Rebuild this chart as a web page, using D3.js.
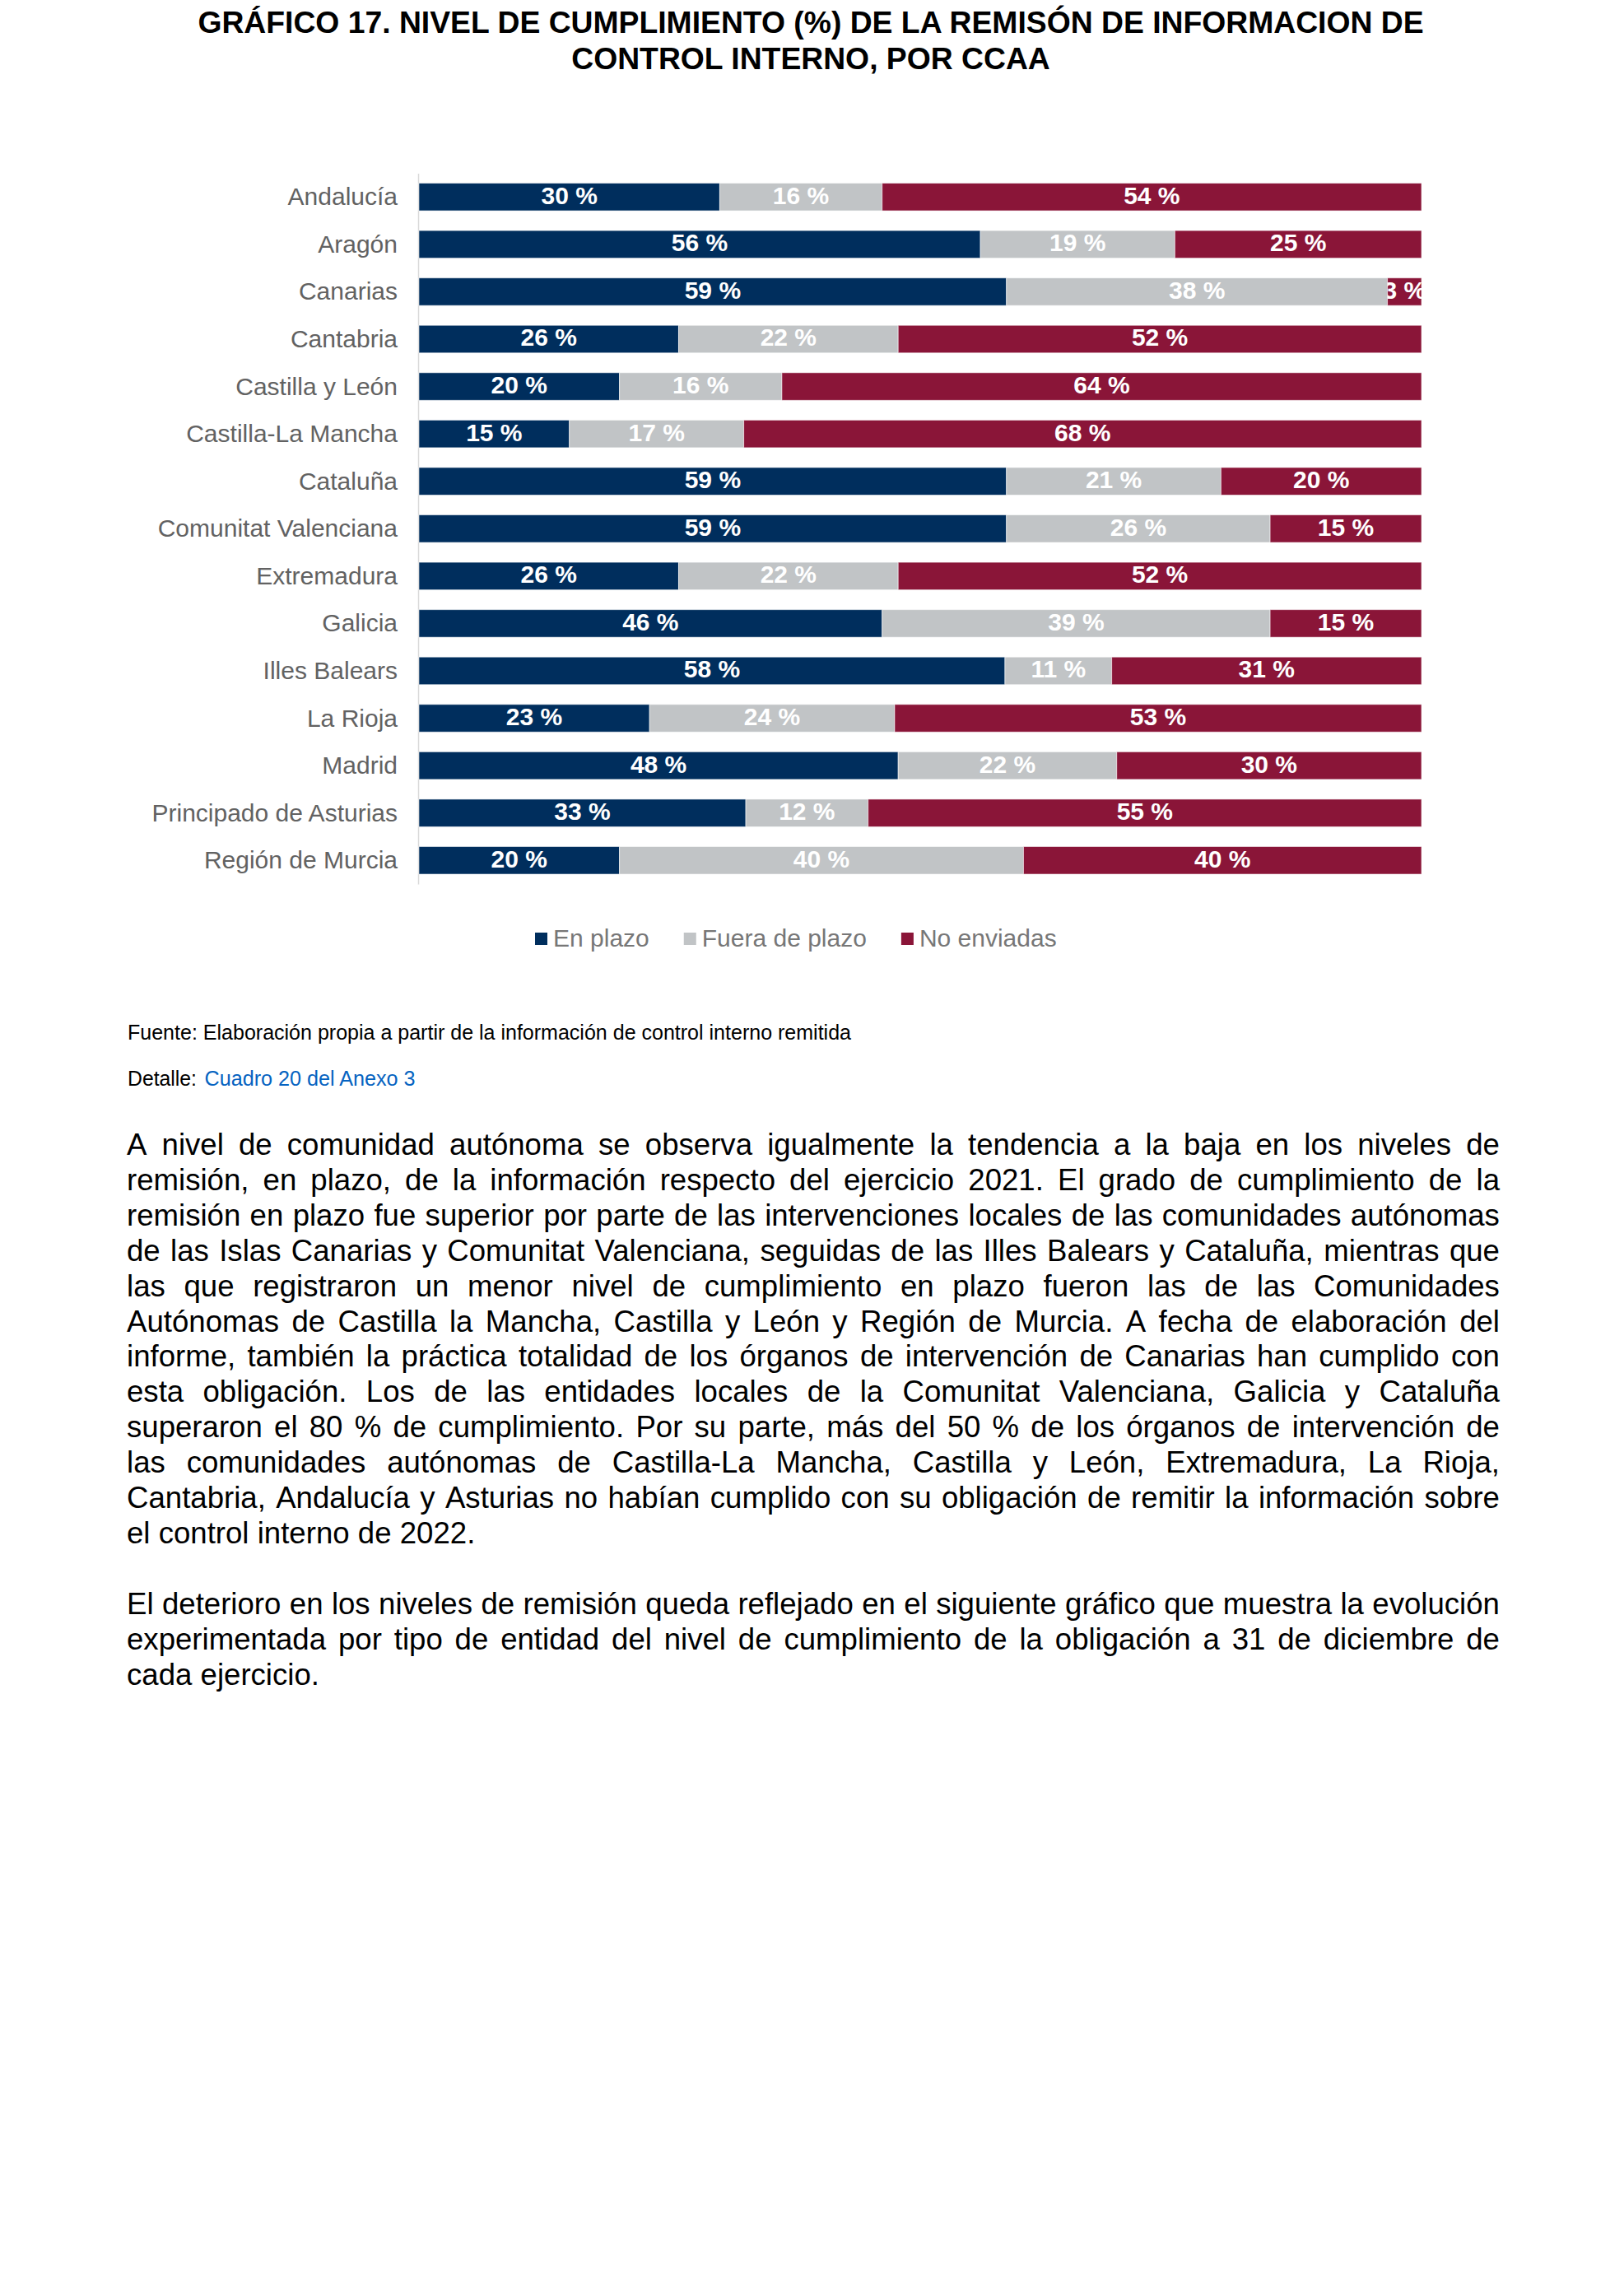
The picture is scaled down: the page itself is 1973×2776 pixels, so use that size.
<!DOCTYPE html>
<html><head><meta charset="utf-8">
<script src="https://cdn.jsdelivr.net/npm/d3@7"></script>
<style>body{margin:0;background:#fff} svg{display:block}</style>
</head><body><svg id="c" width="1973" height="2776"></svg>
<script>
const categories = ["Andalucía","Aragón","Canarias","Cantabria","Castilla y León","Castilla-La Mancha","Cataluña","Comunitat Valenciana","Extremadura","Galicia","Illes Balears","La Rioja","Madrid","Principado de Asturias","Región de Murcia"];
const enPlazo    = [30.0, 56.0, 58.6, 25.9, 20.0, 15.0, 58.6, 58.6, 25.9, 46.2, 58.45, 23.0, 47.8, 32.6, 20.0];
const fueraPlazo = [16.2, 19.4, 38.0, 21.9, 16.2, 17.4, 21.4, 26.3, 21.9, 38.7, 10.65, 24.45, 21.8, 12.2, 40.3];
const noEnviadas = [53.8, 24.6, 3.4, 52.2, 63.8, 67.6, 20.0, 15.1, 52.2, 15.1, 30.9, 52.55, 30.4, 55.2, 39.7];
const seriesNames = ["En plazo","Fuera de plazo","No enviadas"];
const seriesColors = ["#002E5D","#C1C4C6","#8A1538"];
const titleLines = ["GRÁFICO 17. NIVEL DE CUMPLIMIENTO (%) DE LA REMISÓN DE INFORMACION DE","CONTROL INTERNO, POR CCAA"];
const sourceText = "Fuente: Elaboración propia a partir de la información de control interno remitida";
const detailLabel = "Detalle:";
const detailLink = "Cuadro 20 del Anexo 3";
const paragraph1 = [
"A nivel de comunidad autónoma se observa igualmente la tendencia a la baja en los niveles de",
"remisión, en plazo, de la información respecto del ejercicio 2021. El grado de cumplimiento de la",
"remisión en plazo fue superior por parte de las intervenciones locales de las comunidades autónomas",
"de las Islas Canarias y Comunitat Valenciana, seguidas de las Illes Balears y Cataluña, mientras que",
"las que registraron un menor nivel de cumplimiento en plazo fueron las de las Comunidades",
"Autónomas de Castilla la Mancha, Castilla y León y Región de Murcia. A fecha de elaboración del",
"informe, también la práctica totalidad de los órganos de intervención de Canarias han cumplido con",
"esta obligación. Los de las entidades locales de la Comunitat Valenciana, Galicia y Cataluña",
"superaron el 80 % de cumplimiento. Por su parte, más del 50 % de los órganos de intervención de",
"las comunidades autónomas de Castilla-La Mancha, Castilla y León, Extremadura, La Rioja,",
"Cantabria, Andalucía y Asturias no habían cumplido con su obligación de remitir la información sobre",
"el control interno de 2022."];
const paragraph2 = [
"El deterioro en los niveles de remisión queda reflejado en el siguiente gráfico que muestra la evolución",
"experimentada por tipo de entidad del nivel de cumplimiento de la obligación a 31 de diciembre de",
"cada ejercicio."];

const FONT = "'Liberation Sans', Arial, Helvetica, sans-serif";
const NARROW = "'Liberation Sans Narrow', 'Arial Narrow', 'Liberation Sans', Arial, sans-serif";
const svg = d3.select("#c");
svg.append("rect").attr("width",1973).attr("height",2776).attr("fill","#fff");

// Title
svg.selectAll("text.title").data(titleLines).join("text").attr("class","title")
  .attr("x",985).attr("y",(d,i)=>40+i*44).attr("text-anchor","middle")
  .attr("font-family",FONT).attr("font-weight","bold").attr("font-size",37.3).attr("fill","#000")
  .text(d=>d);

// Chart
const table = categories.map((c,i)=>({cat:c,"En plazo":enPlazo[i],"Fuera de plazo":fueraPlazo[i],"No enviadas":noEnviadas[i]}));
const stacked = d3.stack().keys(seriesNames)(table);
const x = d3.scaleLinear().domain([0,100]).range([509,1727]);
const y = d3.scaleBand().domain(categories).range([210.5, 210.5+15*57.57]).paddingInner(0.418).paddingOuter(0.209);
const color = d3.scaleOrdinal().domain(seriesNames).range(seriesColors);
const bh = y.bandwidth();

const axisG = svg.append("g").attr("transform",`translate(${x(0)-1},0)`)
  .call(d3.axisLeft(y).tickSize(0).tickSizeOuter(0).tickPadding(25));
axisG.select(".domain").attr("stroke","#d9d9d9").attr("stroke-width",1.5);
axisG.selectAll("text").attr("font-family",FONT).attr("font-size",30).attr("fill","#626262").attr("dy",null).attr("dominant-baseline",null)
  .attr("y",10);

const defs = svg.append("defs");
const fmt = d3.format(".0f");
stacked.forEach((s,si)=>{
  const g = svg.append("g");
  g.selectAll("rect").data(s).join("rect")
    .attr("x",d=>x(d[0])).attr("width",d=>x(d[1])-x(d[0]))
    .attr("y",d=>y(d.data.cat)).attr("height",bh)
    .attr("fill",color(s.key)).attr("stroke","#fff").attr("stroke-width",1).attr("stroke-opacity",0.55);
  s.forEach((d,j)=>{
    defs.append("clipPath").attr("id",`cl-${si}-${j}`).append("rect")
      .attr("x",x(d[0])).attr("width",x(d[1])-x(d[0])).attr("y",y(d.data.cat)).attr("height",bh);
  });
  g.selectAll("text").data(s).join("text")
    .attr("clip-path",(d,j)=>`url(#cl-${si}-${j})`)
    .attr("x",d=>(x(d[0])+x(d[1]))/2).attr("y",d=>y(d.data.cat)+bh/2+8.5)
    .attr("text-anchor","middle").attr("font-family",FONT).attr("font-weight","bold").attr("font-size",30)
    .attr("fill","#fff").text(d=>fmt(d[1]-d[0])+" %");
});

// Legend
const meas = svg.append("text").attr("font-family",FONT).attr("font-size",30).attr("visibility","hidden");
function tw(t){ meas.text(t); return meas.node().getComputedTextLength(); }
let lx = 650;
seriesNames.forEach((n,i)=>{
  svg.append("rect").attr("x",lx).attr("y",1133).attr("width",15).attr("height",15).attr("fill",seriesColors[i]);
  svg.append("text").attr("x",lx+22).attr("y",1150).attr("font-family",FONT).attr("font-size",30).attr("fill","#777").text(n);
  lx += 22 + tw(n) + 42;
});

// Source
svg.append("text").attr("x",155).attr("y",1263).attr("font-family",NARROW).attr("font-size",25).attr("fill","#000")
  .attr("textLength",879).attr("lengthAdjust","spacingAndGlyphs").text(sourceText);
svg.append("text").attr("x",155).attr("y",1319).attr("font-family",NARROW).attr("font-size",25).attr("fill","#000")
  .attr("textLength",84).attr("lengthAdjust","spacingAndGlyphs").text(detailLabel);
svg.append("text").attr("x",248.5).attr("y",1319).attr("font-family",NARROW).attr("font-size",25).attr("fill","#0563C1")
  .attr("textLength",256).attr("lengthAdjust","spacingAndGlyphs").text(detailLink);

// Paragraphs (justified)
const PX0 = 154, PX1 = 1822, LH = 42.9;
const m2 = svg.append("text").attr("font-family",FONT).attr("font-size",100).attr("visibility","hidden");
function w100(t){ m2.text(t); return m2.node().getComputedTextLength(); }
const spaceW100 = w100("a a") - w100("aa");
const justLines = paragraph1.slice(0,-1).concat(paragraph2.slice(0,-1));
const maxNat = d3.max(justLines, l=>w100(l));
const fs = Math.min(37, 100*(PX1-PX0)/maxNat*0.998);
function drawPara(lines, y0){
  lines.forEach((line,li)=>{
    const words = line.split(" ");
    const ws = words.map(wd=>w100(wd)*fs/100);
    const isLast = li===lines.length-1;
    const gap = isLast ? spaceW100*fs/100 : (PX1-PX0-d3.sum(ws))/(words.length-1);
    let cx = PX0;
    words.forEach((wd,k)=>{
      svg.append("text").attr("x",cx).attr("y",y0+li*LH).attr("font-family",FONT).attr("font-size",fs).attr("fill","#000").text(wd);
      cx += ws[k]+gap;
    });
  });
}
drawPara(paragraph1, 1403);
drawPara(paragraph2, 1961);
</script></body></html>
